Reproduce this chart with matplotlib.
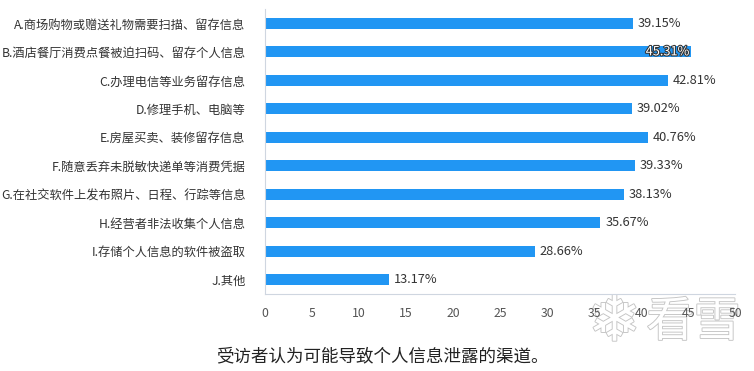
import matplotlib
matplotlib.use("Agg")
import matplotlib.pyplot as plt
import matplotlib.patheffects as pe

plt.rcParams['font.family'] = ['Noto Sans CJK SC', 'DejaVu Sans']

categories = [
    "A.商场购物或赠送礼物需要扫描、留存信息",
    "B.酒店餐厅消费点餐被迫扫码、留存个人信息",
    "C.办理电信等业务留存信息",
    "D.修理手机、电脑等",
    "E.房屋买卖、装修留存信息",
    "F.随意丢弃未脱敏快递单等消费凭据",
    "G.在社交软件上发布照片、日程、行踪等信息",
    "H.经营者非法收集个人信息",
    "I.存储个人信息的软件被盗取",
    "J.其他",
]
values = [39.15, 45.31, 42.81, 39.02, 40.76, 39.33, 38.13, 35.67, 28.66, 13.17]
xticks = [0, 5, 10, 15, 20, 25, 30, 35, 40, 45, 50]
caption = "受访者认为可能导致个人信息泄露的渠道。"
watermark = "看雪"

fig = plt.figure(figsize=(7.54, 3.71), dpi=100)
ax = fig.add_axes([0.3515, 0.2075, 0.6235, 0.768])

ypos = list(range(len(categories)))
ax.barh(ypos, values, height=0.38, color='#2196F3')
ax.set_ylim(len(categories) - 0.5, -0.5)
ax.set_xlim(0, 50)
ax.set_xticks(xticks)
ax.set_yticks(ypos)
ax.set_yticklabels(categories, fontsize=8.8, color='#333333')
ax.tick_params(axis='y', length=0, pad=14)
ax.tick_params(axis='x', length=0, pad=9, labelsize=8.8, labelcolor='#555555')

for s in ['top', 'right']:
    ax.spines[s].set_visible(False)
ax.spines['left'].set_color('#cfd6e0')
ax.spines['bottom'].set_color('#cfd6e0')

for i, v in enumerate(values):
    if v > 45:
        ax.text(v - 0.2, i, f"{v:.2f}%", va='center', ha='right', fontsize=9.2,
                color='white',
                path_effects=[pe.withStroke(linewidth=1.5, foreground='#333333')])
    else:
        ax.text(v + 0.5, i, f"{v:.2f}%", va='center', ha='left', fontsize=9.2,
                color='#333333')

fig.text(0.507, 0.04, caption, ha='center', va='center', fontsize=12.6, color='#222222')

# watermark, drawn under the axes so the tick labels stay readable
stroke = [pe.withStroke(linewidth=1.3, foreground='#c4c4c4')]
fig.text(0.815, 0.13, "\u2744", ha='center', va='center', fontsize=46,
         family='DejaVu Sans', color='white', path_effects=stroke, zorder=-1)
fig.text(0.92, 0.13, watermark, ha='center', va='center', fontsize=34,
         color='white', path_effects=stroke, zorder=-1)

fig.savefig("out.png", dpi=100)
